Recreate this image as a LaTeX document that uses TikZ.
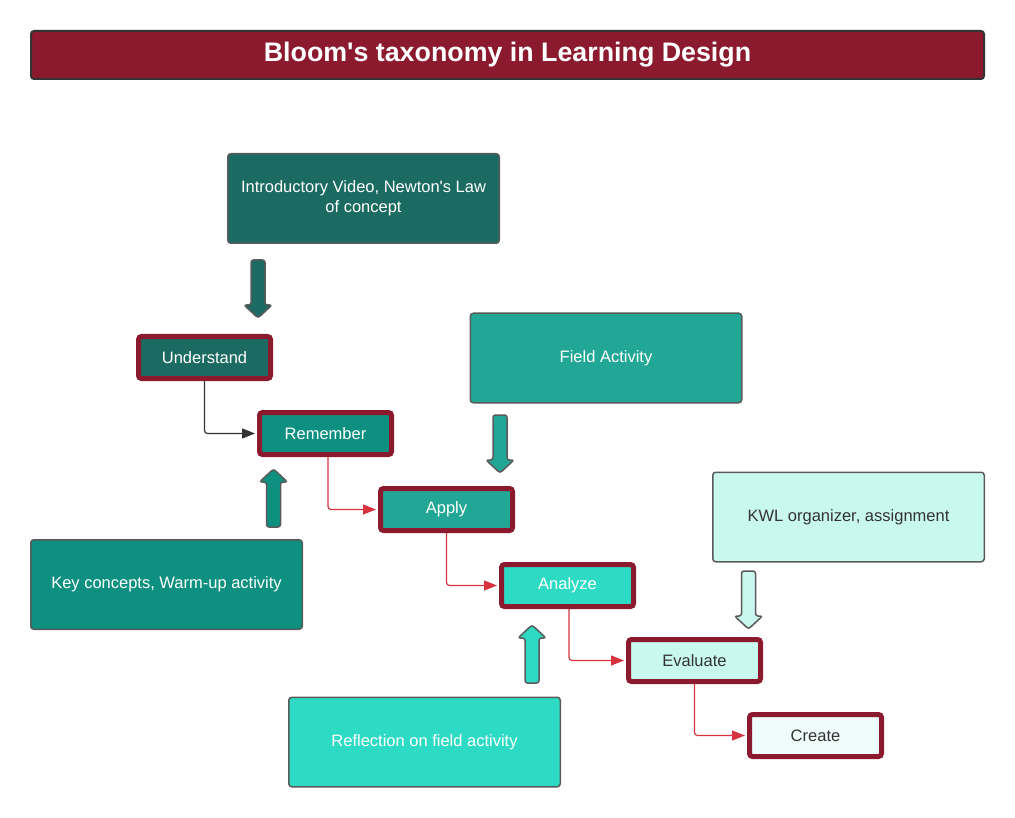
\documentclass[tikz,border=0pt]{standalone}
\usepackage{fontspec}
\setmainfont{Liberation Sans}
\usetikzlibrary{arrows.meta}

\definecolor{bloomred}{HTML}{8B1A2E}
\definecolor{dteal}{HTML}{1B6B62}
\definecolor{teal}{HTML}{0E9080}
\definecolor{mteal}{HTML}{22A796}
\definecolor{lteal}{HTML}{2DDBC4}
\definecolor{mint}{HTML}{C9F9EE}
\definecolor{pale}{HTML}{EEFDFA}
\definecolor{edgegray}{HTML}{5A5A5A}
\definecolor{linkred}{HTML}{D7333F}
\definecolor{darktext}{HTML}{333333}

\tikzset{
  every node/.style={font=\fontsize{16.5}{20}\selectfont, align=center},
  stage/.style={rectangle, rounded corners=3pt, draw=bloomred, line width=5pt,
    minimum width=132pt, minimum height=42pt, text=white},
  source/.style={rectangle, rounded corners=3pt, draw=edgegray, line width=1.5pt,
    minimum width=271.5pt, minimum height=89.5pt, text=white},
  link/.style={linkred, line width=1.2pt, rounded corners=3pt,
    -{Triangle[length=13pt,width=10pt]}, shorten >=2pt},
  pics/blockarrow/.style={code={
    \draw[draw=edgegray, line width=1.5pt, rounded corners=2.5pt, fill=#1]
      (-7,0) -- (7,0) -- (7,45) -- (14,45) -- (0,58) -- (-14,45) -- (-7,45) -- cycle;
  }}
}

\begin{document}
\begin{tikzpicture}[x=1pt,y=-1pt]
    \useasboundingbox (0,0) rectangle (1015,818);

    % title bar
    \node[rectangle, rounded corners=3pt, draw=darktext, line width=2pt, fill=bloomred,
      minimum width=953pt, minimum height=48pt, text=white,
      font=\bfseries\fontsize{26.8}{32}\selectfont] (title) at (507.5,55)
      {Bloom\textquotesingle s taxonomy in Learning Design};

    % activity boxes
    \node[source, fill=dteal] (intro) at (363.5,198.5) {Introductory Video, Newton\textquotesingle s Law\\of concept};
    \node[source, fill=mteal] (field) at (606,358) {Field Activity};
    \node[source, fill=mint, text=darktext] (kwl) at (848.5,517) {KWL organizer, assignment};
    \node[source, fill=teal] (keyconc) at (166.5,584.5) {Key concepts, Warm-up activity};
    \node[source, fill=lteal] (reflect) at (424.5,742) {Reflection on field activity};

    % taxonomy levels
    \node[stage, fill=dteal] (understand) at (204.5,357.5) {Understand};
    \node[stage, fill=teal] (remember) at (325.5,433.5) {Remember};
    \node[stage, fill=mteal] (apply) at (446.5,509.5) {Apply};
    \node[stage, fill=lteal] (analyze) at (567.5,585.5) {Analyze};
    \node[stage, fill=mint, text=darktext] (evaluate) at (694.5,660.5) {Evaluate};
    \node[stage, fill=pale, text=darktext] (create) at (815.5,735.5) {Create};

    % block arrows
    \pic at (258,260) {blockarrow=dteal};
    \pic[rotate=180] at (273.5,527) {blockarrow=teal};
    \pic at (500,415) {blockarrow=mteal};
    \pic[rotate=180] at (532,683) {blockarrow=lteal};
    \pic at (748.5,571) {blockarrow=mint};

    % connectors
    \draw[link, darktext] (understand.south) |- (remember.west);
    \draw[link] ([xshift=2.5pt]remember.south) |- (apply.west);
    \draw[link] (apply.south) |- (analyze.west);
    \draw[link] ([xshift=1.5pt]analyze.south) |- (evaluate.west);
    \draw[link] (evaluate.south) |- (create.west);

\end{tikzpicture}
\end{document}
